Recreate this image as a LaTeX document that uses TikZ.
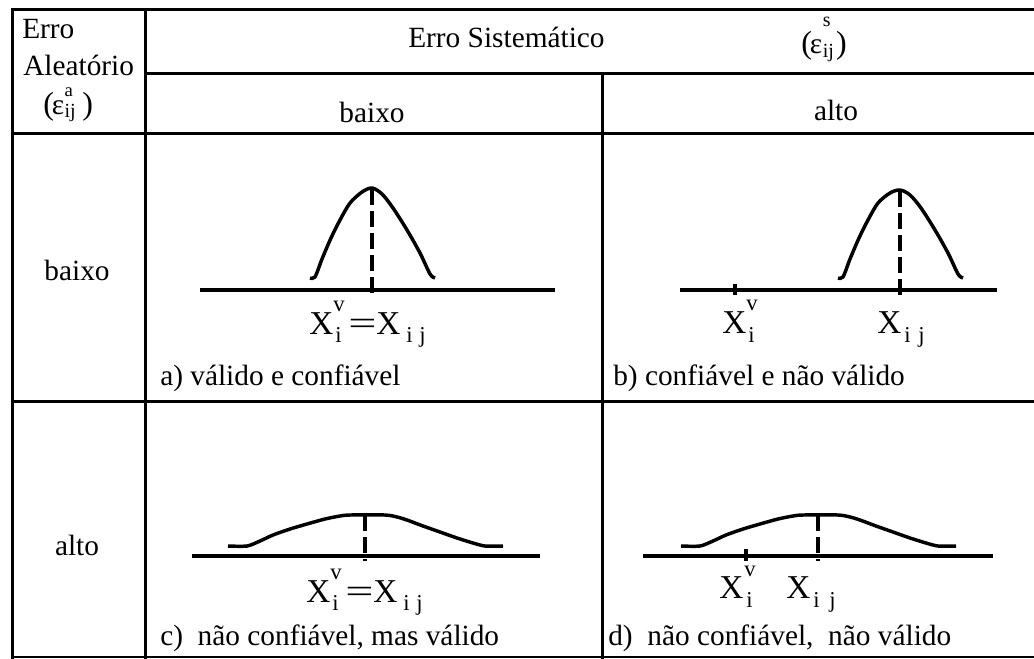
\documentclass[tikz,border=0pt]{standalone}
\usepackage{fontspec}
\setmainfont{Liberation Serif}
\usepackage{graphicx}
\newcommand{\pfont}{\fontsize{24}{28}\selectfont}
\newcommand{\efont}{\fontsize{22}{26}\selectfont}
\newcommand{\sfont}{\fontsize{15}{17}\selectfont}
\newcommand{\safont}{\fontsize{14}{16}\selectfont}
\begin{document}
\begin{tikzpicture}[x=0.75pt,y=-0.75pt,
  grid/.style={line width=2.25pt, line cap=rect},
  txt/.style={inner sep=0pt, font=\fontsize{22}{26}\selectfont},
  lbl/.style={inner sep=0pt, font=\fontsize{25}{29}\selectfont},
  scr/.style={inner sep=0pt, font=\fontsize{17}{19}\selectfont},
  bell/.style={line width=2.6pt, line join=round, line cap=butt},
  axisline/.style={line width=2.4pt},
  dsh/.style={line width=2.3pt, dash pattern=on 12pt off 4.5pt},
  tick/.style={line width=2.4pt}]
\useasboundingbox (0,0) rectangle (1034,658);
\fill[white] (0,0) rectangle (1034,658);

% ---------- table grid ----------
\draw[grid] (12,9) -- (1034,9);
\draw[grid] (12,9) -- (12,657);
\draw[grid] (145,9) -- (145,657);
\draw[grid] (145,73.5) -- (1034,73.5);
\draw[grid] (602.5,73.5) -- (602.5,657);
\draw[grid] (12,133.5) -- (1034,133.5);
\draw[grid] (12,401) -- (1034,401);
\draw[line width=1.4pt] (12,657) -- (1034,657);

% ---------- header texts ----------
\node[txt,anchor=base west] (erro) at (22,38) {Erro};
\node[txt,anchor=base west] (aleat) at (23,75) {Aleatório};
\node[inner sep=0pt,anchor=base west] (epsa) at (43,114)
  {{\pfont(}\kern-1.5pt{\efont ε}\kern0.3pt\makebox[0pt][l]{\raisebox{13pt}{\safont a}}\raisebox{-2.5pt}{\sfont ij}\kern5pt{\pfont)}};

\node[txt,anchor=base west] (sist) at (408,47) {Erro Sistemático};
\node[inner sep=0pt,anchor=base west] (epss) at (801,53)
  {{\pfont(}\kern-1.5pt{\efont ε}\kern0.5pt\makebox[0pt][l]{\raisebox{20pt}{\sfont s}}\raisebox{-3pt}{\sfont ij}\kern1.5pt{\pfont)}};

\node[txt,anchor=base] (hbaixo) at (372,122) {baixo};
\node[txt,anchor=base] (halto) at (836,120) {alto};
\node[txt,anchor=base] (rbaixo) at (77,280) {baixo};
\node[txt,anchor=base] (ralto) at (77,555) {alto};

% ---------- captions ----------
\node[txt,anchor=base west] (capa) at (160,385) {a) válido e confiável};
\node[txt,anchor=base west] (capb) at (613,385) {b) confiável e não válido};
\node[txt,anchor=base west] (capc) at (160,645) {c)\ \ não confiável, mas válido};
\node[txt,anchor=base west] (capd) at (608,645) {d)\ \ não confiável,\ \ não válido};

% ---------- cell a ----------
\draw[axisline] (200,290) -- (555,290);
\draw[bell] plot[smooth, tension=0.5] coordinates {(310,278) (315,277) (322,259) (331,238) (340,220) (350,203) (362,192) (372,188) (382,194) (393,208) (407,230) (420,253) (430,274) (435,278)};
\coordinate (pka) at (372,189);
\coordinate (fta) at (372,296);
\draw[dsh] (pka) -- (fta);
\node[lbl,anchor=base west] (xa1) at (309,334) {X};
\node[scr,anchor=base west] (va) at (333,311) {v};
\node[scr,anchor=base west] (ia) at (335,342) {i};
\node[lbl,anchor=base west] (eqa) at (348,334) {\scalebox{1.5}[1]{=}};
\node[lbl,anchor=base west] (xa2) at (376,334) {X};
\node[scr,anchor=base west] (ia2) at (406,342) {i};
\node[scr,anchor=base west] (ja2) at (419,342) {j};

% ---------- cell b ----------
\draw[axisline] (680,290) -- (997,290);
\coordinate (tkb1) at (735,284);
\coordinate (tkb2) at (735,295);
\draw[tick] (tkb1) -- (tkb2);
\begin{scope}[shift={(528,2)}]
\draw[bell] plot[smooth, tension=0.5] coordinates {(310,276) (315,275) (322,257) (331,236) (340,218) (350,201) (362,191) (372,188) (382,193) (393,206) (407,228) (420,251) (430,272) (435,276)};
\end{scope}
\coordinate (pkb) at (900,191);
\coordinate (ftb) at (900,296);
\draw[dsh] (pkb) -- (ftb);
\node[lbl,anchor=base west] (xb1) at (722,333) {X};
\node[scr,anchor=base west] (vb) at (746,310) {v};
\node[scr,anchor=base west] (ib) at (748,342) {i};
\node[lbl,anchor=base west] (xb2) at (877,333) {X};
\node[scr,anchor=base west] (ib2) at (904,342) {i};
\node[scr,anchor=base west] (jb2) at (918,342) {j};

% ---------- cell c ----------
\draw[axisline] (192,556) -- (540,556);
\draw[bell] plot[smooth, tension=0.45] coordinates {(228,546) (247,546) (260,541) (273,535) (290,529) (307,524) (325,519) (340,516) (350,515) (385,515) (397,517) (407,520) (423,526) (440,532) (457,538) (473,543) (485,546) (503,546)};
\coordinate (pkc) at (365,515);
\coordinate (ftc) at (365,561);
\draw[dsh] (pkc) -- (ftc);
\node[lbl,anchor=base west] (xc1) at (306,602) {X};
\node[scr,anchor=base west] (vc) at (330,579) {v};
\node[scr,anchor=base west] (ic) at (332,610) {i};
\node[lbl,anchor=base west] (eqc) at (345,602) {\scalebox{1.5}[1]{=}};
\node[lbl,anchor=base west] (xc2) at (373,602) {X};
\node[scr,anchor=base west] (ic2) at (403,610) {i};
\node[scr,anchor=base west] (jc2) at (416,610) {j};

% ---------- cell d ----------
\draw[axisline] (643,556) -- (993,556);
\coordinate (tkd1) at (746,549);
\coordinate (tkd2) at (746,561);
\draw[tick] (tkd1) -- (tkd2);
\begin{scope}[shift={(453,0)}]
\draw[bell] plot[smooth, tension=0.45] coordinates {(228,546) (247,546) (260,541) (273,535) (290,529) (307,524) (325,519) (340,516) (350,515) (385,515) (397,517) (407,520) (423,526) (440,532) (457,538) (473,543) (485,546) (503,546)};
\end{scope}
\coordinate (pkd) at (818,515);
\coordinate (ftd) at (818,561);
\draw[dsh] (pkd) -- (ftd);
\node[lbl,anchor=base west] (xd1) at (719,598) {X};
\node[scr,anchor=base west] (vd) at (744,576) {v};
\node[scr,anchor=base west] (id) at (746,607) {i};
\node[lbl,anchor=base west] (xd2) at (786,598) {X};
\node[scr,anchor=base west] (id2) at (813,607) {i};
\node[scr,anchor=base west] (jd2) at (829,607) {j};
\end{tikzpicture}
\end{document}
